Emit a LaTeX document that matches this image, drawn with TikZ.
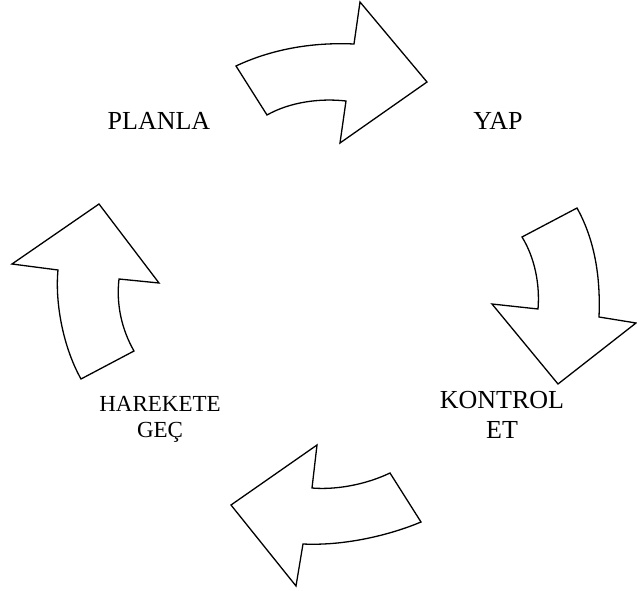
\documentclass[tikz,border=0pt]{standalone}
\usepackage{fontspec}
\setmainfont{Liberation Serif}
\begin{document}
\begin{tikzpicture}[x=1pt,y=-1pt,
  bentarrow/.style={draw=black,line width=1.3pt,line join=miter,fill=white},
  bigstep/.style={font=\fontsize{26}{30}\selectfont,align=center,anchor=base,inner sep=0pt},
  smallstep/.style={font=\fontsize{23}{26}\selectfont,align=center,anchor=base,inner sep=0pt}]
\useasboundingbox (0,0) rectangle (637,591);

% curved arrow at the top: PLANLA -> YAP
\draw[bentarrow] (236,66) .. controls (270,50) and (310,42) .. (354,44)
  -- (360,2) -- (427,82) -- (340,143) -- (346,101)
  .. controls (320,98) and (290,102) .. (267,115) -- cycle;

% curved arrow on the right: YAP -> KONTROL ET
\draw[bentarrow] (577,208) .. controls (592,235) and (601,270) .. (599,317)
  -- (636,323) -- (558,384) -- (492,304) -- (538,309)
  .. controls (540,285) and (535,258) .. (522,237) -- cycle;

% curved arrow at the bottom: KONTROL ET -> HAREKETE GEÇ
\draw[bentarrow] (421,522) .. controls (390,535) and (345,546) .. (303,544)
  -- (296,586) -- (231,505) -- (317,445) -- (312,488)
  .. controls (335,490) and (365,485) .. (390,473) -- cycle;

% curved arrow on the left: HAREKETE GEÇ -> PLANLA
\draw[bentarrow] (81,379) .. controls (62,345) and (55,300) .. (58,270)
  -- (12,264) -- (99,204) -- (159,283) -- (119,279)
  .. controls (116,305) and (122,330) .. (134,351) -- cycle;

% step labels
\node[bigstep] (plan) at (159,130) {PLANLA};
\node[bigstep] (do) at (498,130) {YAP};
\node[bigstep] (check) at (502,438) {KONTROL\\ET};
\node[smallstep] (act) at (160,437) {HAREKETE\\GEÇ};
\end{tikzpicture}
\end{document}
